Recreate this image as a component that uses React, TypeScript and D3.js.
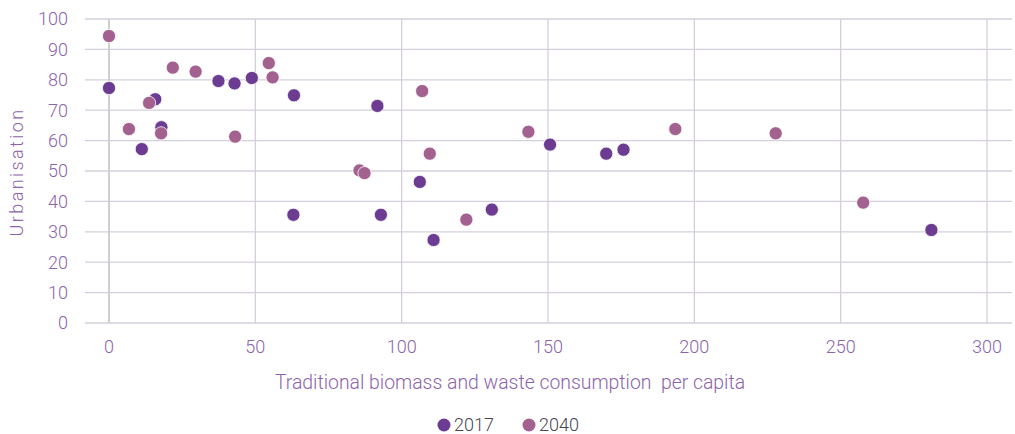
import React from 'react';
import * as d3 from 'd3';

// Traditional biomass and waste consumption per capita vs urbanisation (%)
const biomass2017 = [0, 15.8, 17.9, 11.2, 37.4, 42.9, 48.8, 63.2, 63, 91.7, 92.9, 106.2, 110.9, 130.8, 150.7, 169.9, 175.8, 281];
const urban2017 = [77.3, 73.6, 64.4, 57.2, 79.6, 78.8, 80.6, 74.9, 35.6, 71.4, 35.6, 46.4, 27.3, 37.3, 58.7, 55.7, 57, 30.6];

const biomass2040 = [0, 6.8, 13.7, 17.8, 21.8, 29.6, 43.1, 54.6, 55.9, 85.6, 87.3, 107, 109.6, 122.1, 143.3, 193.5, 227.8, 257.7];
const urban2040 = [94.4, 63.8, 72.4, 62.4, 84, 82.7, 61.3, 85.5, 80.8, 50.2, 49.3, 76.3, 55.7, 34, 62.9, 63.8, 62.4, 39.6];

const xTicks = [0, 50, 100, 150, 200, 250, 300];
const yTicks = [0, 10, 20, 30, 40, 50, 60, 70, 80, 90, 100];

const seriesNames = ['2017', '2040'];
const seriesColors = ['#6b3c91', '#a3618f'];

const W = 1015;
const H = 434;
const plotLeft = 85;
const plotRight = 1012;

const App: React.FC = () => {
  const x = d3.scaleLinear().domain([0, 300]).range([109, 987]);
  const y = d3.scaleLinear().domain([0, 100]).range([323, 19]);

  const textColor = '#8c64ab';
  const gridColor = '#d5cfdd';
  const font = 'Roboto, "Noto Sans", sans-serif';

  const series = [
    { xs: biomass2017, ys: urban2017 },
    { xs: biomass2040, ys: urban2040 },
  ];

  return (
    <svg
      width={W}
      height={H}
      style={{ position: 'absolute', left: 0, top: 0, background: '#fff' }}
      fontFamily={font}
    >
      {/* horizontal grid */}
      {yTicks.map(t => (
        <line key={'h' + t} x1={plotLeft} x2={plotRight} y1={y(t)} y2={y(t)} stroke={gridColor} strokeWidth={1.3} />
      ))}
      {/* vertical grid */}
      {xTicks.map(t => (
        <line
          key={'v' + t}
          x1={x(t)}
          x2={x(t)}
          y1={y(100)}
          y2={y(0)}
          stroke={t === 0 ? '#cfcfcf' : gridColor}
          strokeWidth={t === 0 ? 2 : 1.3}
        />
      ))}

      {/* y tick labels */}
      {yTicks.map(t => (
        <text key={'yt' + t} x={68} y={y(t)} dy="0.36em" textAnchor="end" fill={textColor} fontSize={18} fontWeight={300}>
          {t}
        </text>
      ))}
      {/* x tick labels */}
      {xTicks.map(t => (
        <text key={'xt' + t} x={x(t)} y={353} textAnchor="middle" fill={textColor} fontSize={18} fontWeight={300}>
          {t}
        </text>
      ))}

      {/* axis titles */}
      <text x={510} y={389} textAnchor="middle" fill={textColor} fontSize={19.4} fontWeight={300} style={{ whiteSpace: 'pre' }}>
        {'Traditional biomass and waste consumption  per capita'}
      </text>
      <text
        transform={`translate(23, ${y(50) + 1}) rotate(-90)`}
        textAnchor="middle"
        fill={textColor}
        fontSize={18}
        fontWeight={300}
        letterSpacing={2.4}
      >
        Urbanisation
      </text>

      {/* points */}
      {series.map((s, si) => (
        <g key={'s' + si}>
          {s.xs.map((v, i) => (
            <circle key={i} cx={x(v)} cy={y(s.ys[i])} r={6.6} fill={seriesColors[si]} stroke="#fff" strokeWidth={0.8} />
          ))}
        </g>
      ))}

      {/* legend */}
      {seriesNames.map((n, i) => (
        <g key={'l' + n} transform={`translate(${444 + i * 85}, 425)`}>
          <circle cx={0} cy={0} r={6.5} fill={seriesColors[i]} />
          <text x={10} y={0} dy="0.36em" fill="#454550" fontSize={18} fontWeight={300}>
            {n}
          </text>
        </g>
      ))}
    </svg>
  );
};

export default App;
